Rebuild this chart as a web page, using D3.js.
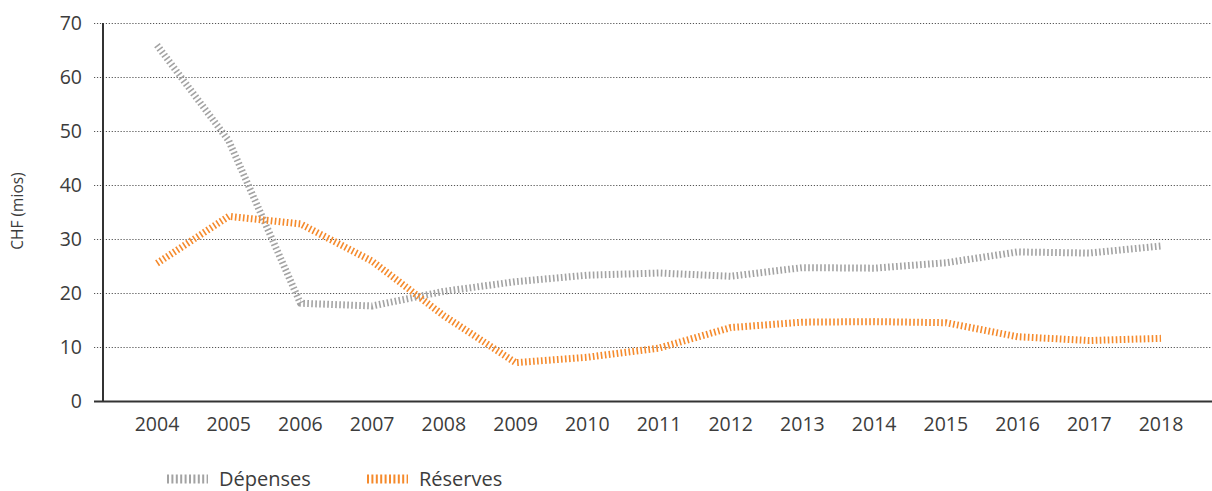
<!DOCTYPE html>
<html>
<head>
<meta charset="utf-8">
<script src="https://cdn.jsdelivr.net/npm/d3@7"></script>
<style>
  html, body { margin: 0; padding: 0; background: #fff; }
  svg { display: block; font-family: "Open Sans", sans-serif; }
</style>
</head>
<body>
<svg id="chart" width="1212" height="491"></svg>
<script>
const years = ["2004","2005","2006","2007","2008","2009","2010","2011","2012","2013","2014","2015","2016","2017","2018"];
const depenses = [65.9, 48.2, 18.1, 17.6, 20.3, 22.1, 23.3, 23.7, 23.1, 24.7, 24.6, 25.6, 27.6, 27.4, 28.7];
const reserves = [25.5, 34.2, 32.8, 25.9, 15.8, 7.1, 8.1, 9.8, 13.6, 14.6, 14.7, 14.5, 11.9, 11.2, 11.6];
const yTicks = [0, 10, 20, 30, 40, 50, 60, 70];
const seriesNames = ["Dépenses", "Réserves"];
const seriesColors = ["#a3a3a3", "#f58a2c"];
const yLabel = "CHF (mios)";

const svg = d3.select("#chart");
const axisX = 103, y0 = 401, yTop = 23;

const x = d3.scalePoint().domain(years).range([157, 1161]);
const y = d3.scaleLinear().domain([0, 70]).range([y0, yTop]);

// gridlines
svg.append("g").selectAll("line").data(yTicks.filter(d => d > 0)).join("line")
  .attr("x1", 94).attr("x2", 1212)
  .attr("y1", d => y(d) + 0.5).attr("y2", d => y(d) + 0.5)
  .attr("stroke", "#555").attr("stroke-width", 1.2)
  .attr("stroke-dasharray", "1.2,1.75");

// y tick labels
svg.append("g").selectAll("text").data(yTicks).join("text")
  .attr("x", 82).attr("y", d => y(d)).attr("dy", "0.35em")
  .attr("text-anchor", "end").attr("font-size", 19.5).attr("fill", "#3c3c3c")
  .text(d => d);

// x tick labels
svg.append("g").selectAll("text").data(years).join("text")
  .attr("x", d => x(d)).attr("y", 431)
  .attr("text-anchor", "middle").attr("font-size", 19.5).attr("fill", "#3c3c3c")
  .text(d => d);

// y label
svg.append("text")
  .attr("transform", "translate(23,211) rotate(-90)")
  .attr("text-anchor", "middle").attr("font-size", 15.5).attr("fill", "#3c3c3c")
  .text(yLabel);

// lines
const line = d3.line().x((d, i) => x(years[i])).y(d => y(d)).curve(d3.curveLinear);
[depenses, reserves].forEach((s, k) => {
  svg.append("path").datum(s)
    .attr("d", line).attr("fill", "none")
    .attr("stroke", seriesColors[k]).attr("stroke-width", 7)
    .attr("stroke-linejoin", "round")
    .attr("stroke-dasharray", "1.6,2.4");
});

// axes
svg.append("line").attr("x1", axisX).attr("x2", axisX).attr("y1", yTop).attr("y2", y0 + 1)
  .attr("stroke", "#333").attr("stroke-width", 2);
svg.append("line").attr("x1", 94).attr("x2", 1212).attr("y1", y0 + 0.5).attr("y2", y0 + 0.5)
  .attr("stroke", "#333").attr("stroke-width", 2);

// legend
const legX = [167, 367];
seriesNames.forEach((n, k) => {
  const g = svg.append("g").attr("transform", `translate(${legX[k]},479)`);
  g.append("line").attr("x1", 0).attr("x2", 41).attr("y1", 0).attr("y2", 0)
    .attr("stroke", seriesColors[k]).attr("stroke-width", 9)
    .attr("stroke-dasharray", "2,2.4");
  g.append("text").attr("x", 52).attr("y", 0).attr("dy", "0.35em")
    .attr("font-size", 20).attr("fill", "#3c3c3c").text(n);
});
</script>
</body>
</html>
